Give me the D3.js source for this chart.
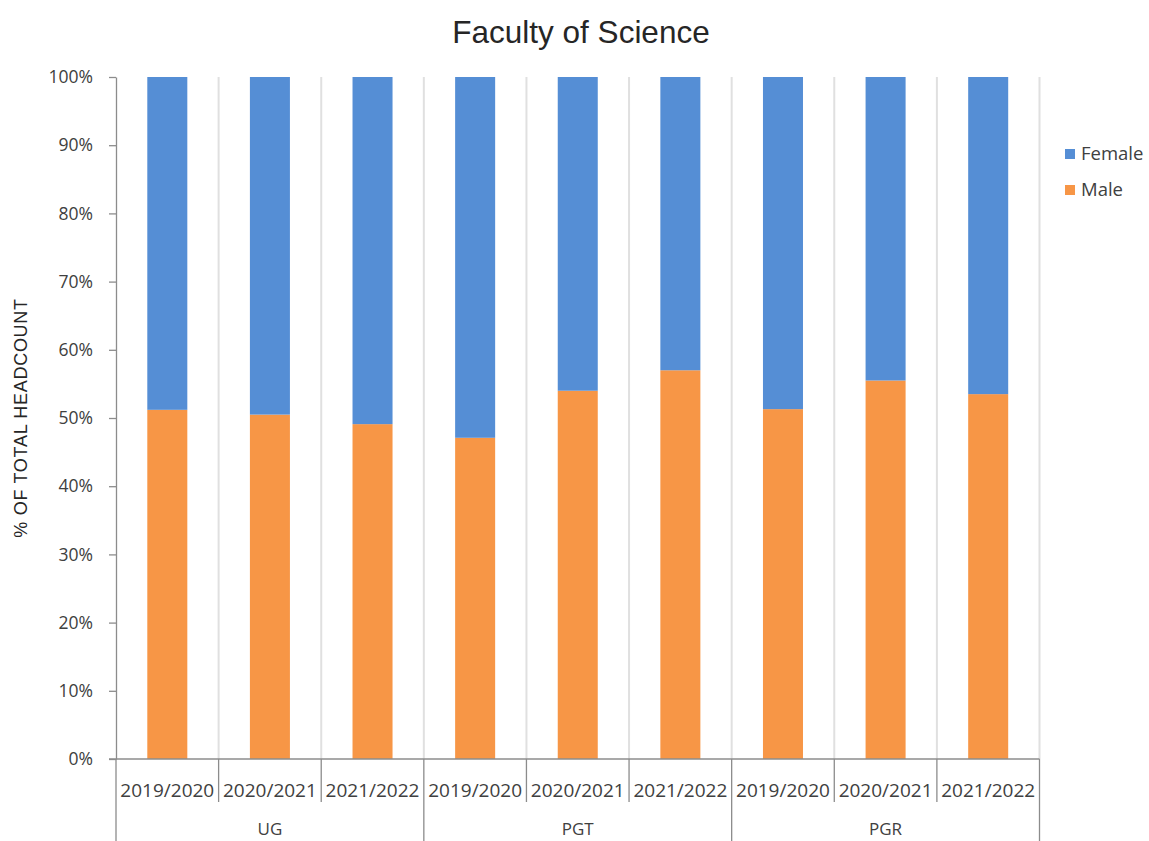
<!DOCTYPE html>
<html><head><meta charset="utf-8">
<script src="https://cdn.jsdelivr.net/npm/d3@7"></script>
<style>body{margin:0;background:#fff;}</style>
</head><body>
<script>
const groups = ["UG", "PGT", "PGR"];
const years = ["2019/2020", "2020/2021", "2021/2022"];
const male =   [51.2, 50.5, 49.1, 47.1, 54.0, 57.0, 51.3, 55.5, 53.5];
const female = male.map(v => 100 - v);
const yTicks = [0,10,20,30,40,50,60,70,80,90,100];
const seriesNames = ["Female", "Male"];
const colors = {Female: "#558ed5", Male: "#f79646"};

(function(){
const W = 1149, H = 841;
const svg = d3.select("body").append("svg").attr("width", W).attr("height", H);
const pLeft = 116, pRight = 1039.5, pTop = 77, pBottom = 759;

const cats = [];
groups.forEach(g => years.forEach(y => cats.push(g + "|" + y)));
const data = cats.map((c, i) => ({key: c, Male: male[i], Female: female[i]}));

const x = d3.scaleBand().domain(cats).range([pLeft, pRight]).paddingInner(0.61).paddingOuter(0.305);
const xb = d3.scaleLinear().domain([0, cats.length]).range([pLeft, pRight]);
const y = d3.scaleLinear().domain([0, 100]).range([pBottom, pTop]);

// vertical gridlines
svg.append("g").selectAll("line").data(d3.range(1, cats.length + 1)).join("line")
  .attr("x1", d => xb(d)).attr("x2", d => xb(d)).attr("y1", pTop).attr("y2", pBottom)
  .attr("stroke", "#e0e0e0").attr("stroke-width", 2);

// stacked bars
const stack = d3.stack().keys(["Male", "Female"])(data);
svg.append("g").selectAll("g").data(stack).join("g")
  .attr("fill", d => colors[d.key])
  .selectAll("rect").data(d => d).join("rect")
  .attr("x", d => x(d.data.key)).attr("width", x.bandwidth())
  .attr("y", d => y(d[1])).attr("height", d => y(d[0]) - y(d[1]));

const axisColor = "#8c8c8c";
// y axis
const ya = svg.append("g").attr("transform", `translate(${pLeft},0)`)
  .call(d3.axisLeft(y).tickValues(yTicks).tickFormat(d => d + "%").tickSize(7).tickSizeOuter(0));
ya.select(".domain").attr("stroke", axisColor).attr("stroke-width", 1.3);
ya.selectAll(".tick line").attr("stroke", axisColor).attr("stroke-width", 1.3);
ya.selectAll(".tick text").attr("x", -23).attr("fill", "#404040")
  .style("font-family", "'Open Sans', sans-serif").style("font-size", "17.5px");

// x axis line
svg.append("line").attr("x1", pLeft - 7).attr("x2", pRight).attr("y1", pBottom).attr("y2", pBottom)
  .attr("stroke", axisColor).attr("stroke-width", 1.3);
// x dividers
svg.append("g").selectAll("line").data(d3.range(0, cats.length + 1)).join("line")
  .attr("x1", d => xb(d)).attr("x2", d => xb(d)).attr("y1", pBottom)
  .attr("y2", d => d % 3 === 0 ? H + 2 : 802)
  .attr("stroke", axisColor).attr("stroke-width", 1.3);
// year labels
svg.append("g").selectAll("text").data(cats).join("text")
  .attr("x", d => x(d) + x.bandwidth() / 2).attr("y", 797)
  .attr("text-anchor", "middle").attr("fill", "#404040")
  .style("font-family", "'Open Sans', sans-serif").style("font-size", "19px")
  .text(d => d.split("|")[1]);
// group labels
svg.append("g").selectAll("text").data(groups).join("text")
  .attr("x", (d, i) => (xb(i * 3) + xb(i * 3 + 3)) / 2).attr("y", 835)
  .attr("text-anchor", "middle").attr("fill", "#404040")
  .style("font-family", "'Open Sans', sans-serif").style("font-size", "17px")
  .text(d => d);

// title
svg.append("text").attr("x", 581).attr("y", 43).attr("text-anchor", "middle")
  .attr("fill", "#262626")
  .style("font-family", "'Liberation Sans', Arial, sans-serif").style("font-size", "31.5px")
  .text("Faculty of Science");

// y title
svg.append("text").attr("transform", "translate(27,418) rotate(-90)")
  .attr("text-anchor", "middle").attr("fill", "#262626")
  .style("font-family", "'Liberation Sans', Arial, sans-serif").style("font-size", "18px")
  .style("letter-spacing", "0.7px")
  .text("% OF TOTAL HEADCOUNT");

// legend
const lg = svg.append("g").selectAll("g").data(seriesNames).join("g")
  .attr("transform", (d, i) => `translate(1065,${149 + i * 36})`);
lg.append("rect").attr("width", 10).attr("height", 10).attr("fill", d => colors[d]);
lg.append("text").attr("x", 16).attr("y", 11).attr("fill", "#404040")
  .style("font-family", "'Open Sans', sans-serif").style("font-size", "18.5px")
  .text(d => d);
})();
</script>
</body></html>
